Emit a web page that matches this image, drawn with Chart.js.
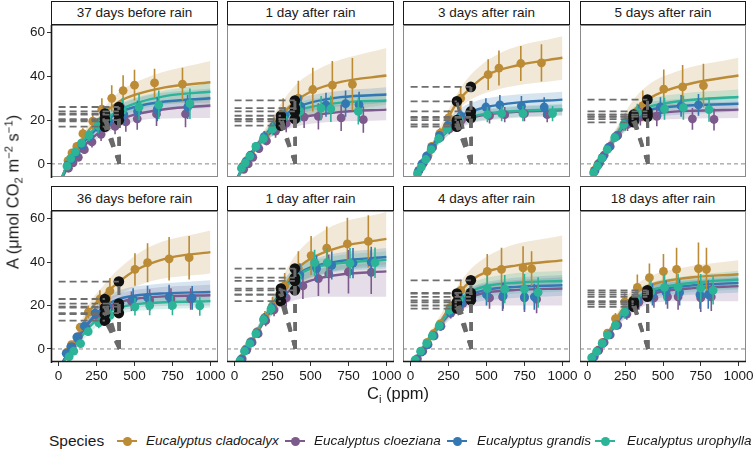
<!DOCTYPE html>
<html>
<head>
<meta charset="utf-8">
<script src="https://cdn.jsdelivr.net/npm/chart.js@4.4.0/dist/chart.umd.min.js"></script>
<style>
  body { margin: 0; background: #fff; }
  #page { position: relative; width: 755px; height: 451px; overflow: hidden; font-family: "Liberation Sans", Arial, sans-serif; color: #1a1a1a; }
  #page canvas { position: absolute; }
  .strip { position: absolute; box-sizing: border-box; border: 1.4px solid #1a1a1a; background: #fff; font-size: 13.5px; text-align: center; }
  .title { position: absolute; white-space: nowrap; font-size: 16.5px; transform: translate(-50%, -50%); }
  .title sub, .title sup { font-size: 0.68em; line-height: 0; }
  .ytitle { transform: translate(-50%, -50%) rotate(-90deg); }
  .leg { position: absolute; white-space: nowrap; font-size: 13.5px; font-style: italic; top: 432px; line-height: 18px; }
  .key { position: absolute; top: 432px; width: 20px; height: 18px; }
  .key .ln { position: absolute; left: 0; right: 0; top: 8px; height: 2px; }
  .key .dot { position: absolute; left: 5.5px; top: 4.5px; width: 9px; height: 9px; border-radius: 50%; }
</style>
</head>
<body>
<div id="page"></div>
<script>
// panels and axes
const panelTitles = ['37 days before rain', '1 day after rain', '3 days after rain', '5 days after rain',
                     '36 days before rain', '1 day after rain', '4 days after rain', '18 days after rain'];
const speciesNames = ['Eucalyptus cladocalyx', 'Eucalyptus cloeziana', 'Eucalyptus grandis', 'Eucalyptus urophylla'];
const xTicks = [0, 250, 500, 750, 1000];
const yTicks = [0, 20, 40, 60];
const fitCi = [20, 60, 100, 150, 200, 300, 400, 500, 700, 1000];
const bandCi = [20, 100, 200, 300, 400, 600, 1000];
const opCi = [305, 397];
const caRef = 400;

// fitted curves (one row per panel)
const cladFit = [
  [-6.5, 0, 5, 10.5, 15.5, 23, 28.5, 31.5, 35, 37.3],
  [-6.5, -1, 3.5, 8.5, 13, 21.5, 28.5, 33, 37.5, 40.4],
  [-7.5, -2, 3, 8.5, 14.5, 27.5, 35, 40.5, 45, 48.5],
  [-7, -1.5, 3.5, 9, 14.5, 24, 29.5, 33, 37, 40.4],
  [-7, -2, 3, 9.5, 17, 25, 31, 36, 41.5, 44.6],
  [-8, -3, 2.5, 8, 14.5, 26, 36, 41.5, 47, 50.7],
  [-7.5, -2, 3, 8, 13, 24, 31.5, 35.5, 38.5, 40.8],
  [-7.5, -2, 3, 9, 15, 24.5, 29, 31, 33, 34.4]
];
const cloezFit = [
  [-7, -1.5, 2.5, 6.5, 10.5, 16, 20, 22.5, 25, 26.7],
  [-6.5, -1, 3.5, 8, 12, 17.5, 20.5, 22, 23.8, 24.8],
  [-7, -2, 2.5, 7.5, 12, 18, 21, 22.5, 23.8, 24.5],
  [-7, -1.5, 3.5, 8.5, 13.5, 20.5, 22.5, 23.5, 24.3, 24.8],
  [-7, -2, 2.5, 7.5, 12, 18.5, 21.5, 23, 24.2, 24.7],
  [-8, -3, 2, 7.5, 13.5, 23, 28.5, 31.5, 34.3, 35.7],
  [-7.5, -2.5, 2.5, 7, 11.5, 19.5, 24, 26, 27.2, 27.8],
  [-7.5, -2, 2.5, 7.5, 12.5, 20.5, 24.5, 26.5, 28, 28.9]
];
const grandFit = [
  [-6.5, -0.5, 4, 8.5, 12.5, 19, 23.5, 26, 28.5, 30],
  [-6, -0.5, 4, 9, 13, 20.5, 25.5, 28, 30.5, 31.7],
  [-7, -1.5, 3.5, 9, 14, 21, 24, 26, 28, 29.4],
  [-7, -1.5, 3.5, 9, 14, 22, 24.5, 25.8, 26.8, 27.5],
  [-7, -2, 2.5, 7.5, 12.5, 19.5, 23, 24.5, 25.6, 26.2],
  [-8, -3, 2.5, 8, 14.5, 25.5, 33.5, 37.5, 40.5, 42.3],
  [-7.5, -2.5, 2.5, 7, 12, 20.5, 25, 27.3, 28.6, 29.3],
  [-7.5, -2, 2.5, 8, 13, 21.5, 25.5, 27.5, 29.3, 30.4]
];
const uroFit = [
  [-6.5, 0, 4.5, 9.5, 13.5, 20, 24.5, 27.5, 31, 33],
  [-6.5, -1, 3.5, 8.5, 12.5, 19.5, 24, 26, 28, 29],
  [-7, -2, 2.5, 7.5, 12, 18.5, 21.5, 23, 24.2, 25],
  [-7, -1.5, 3.5, 9, 14, 22.5, 26, 27.5, 29.3, 30.6],
  [-7.5, -3, 1, 5.5, 10, 16, 19, 20.5, 21.5, 22],
  [-8, -3, 2.5, 8, 14.5, 25, 33, 37, 39.5, 41],
  [-7.5, -2.5, 2.5, 7, 12, 21, 26.5, 29, 30.5, 31.3],
  [-7.5, -2, 2.5, 8, 13.5, 22, 26.5, 28.5, 30.5, 32]
];

// confidence bands
const cladLo = [
  [-7.5, 3.5, 13, 20, 24, 27, 28], [-7.5, 2, 10, 16, 20, 23, 27], [-8.5, 1.5, 11.5, 23.5, 29.5, 34.5, 38.5],
  [-8, 1.5, 11.5, 19, 23, 27, 30], [-8, 1, 13.5, 20.5, 25, 31, 34.7], [-9, 1, 12, 21, 28, 35, 39],
  [-8.5, 2, 10, 19.5, 25, 28, 30], [-8.5, 2, 13, 21, 24.5, 27, 28]
];
const cladHi = [
  [-5.5, 6.5, 18, 26, 33, 40, 47], [-5.5, 5, 16, 27, 36, 45, 53], [-6.5, 4.5, 17.5, 31.5, 41, 51, 58.4],
  [-6, 5.5, 17.5, 29, 36, 42.5, 48.5], [-6, 5, 20.5, 29.5, 37, 47, 54.5], [-7, 4, 17, 31, 43, 55, 63],
  [-6.5, 4, 16, 28, 37, 46, 52.2], [-6.5, 4, 17, 28, 33, 37, 40.8]
];
const cloezLo = [
  [-8, 1.5, 8.5, 13.5, 17, 20.5, 21], [-7.5, 2.5, 10, 14.5, 17, 19, 20], [-8, 1, 10, 15.5, 18.5, 20.5, 22],
  [-8, 2, 11, 17.5, 19.5, 20.5, 21], [-8, 1, 9, 15, 17.5, 19.5, 20], [-9, 1, 11.5, 19, 22.5, 24, 24],
  [-8.5, 1.5, 9.5, 16, 19.5, 20, 20], [-8.5, 1.5, 10.5, 16.5, 20.5, 22, 22]
];
const cloezHi = [
  [-6, 4, 12.5, 18.5, 23, 27, 31], [-5.5, 4.5, 14, 20.5, 24, 26.5, 28.5], [-6, 4, 14, 20.5, 23.5, 25.5, 27],
  [-6, 5, 16, 23.5, 26, 27.5, 28.5], [-6, 4, 15, 22, 25.5, 28, 29.5], [-7, 3, 15.5, 27, 33, 37.5, 40],
  [-6.5, 3.5, 13.5, 23, 28, 31, 33], [-6.5, 3.5, 14.5, 24.5, 28.5, 31, 33]
];
const grandLo = [
  [-7.5, 2.5, 10.5, 16, 20, 24, 25.5], [-7, 3, 11, 17.5, 22, 25.5, 28], [-8, 2, 12, 18, 20.5, 23.5, 25.5],
  [-8, 2, 11.5, 19, 21, 22.5, 24], [-8, 1, 9.5, 16, 19, 21, 21.5], [-9, 1.5, 12.5, 21.5, 29.5, 35, 38],
  [-8.5, 1.5, 10, 17.5, 21, 23, 24.5], [-8.5, 1.5, 11, 18, 22, 24.5, 26]
];
const grandHi = [
  [-5.5, 5.5, 14.5, 22, 27, 31.5, 34.5], [-5, 5, 15, 23.5, 29, 32.5, 35], [-6, 5, 16, 24, 28, 31, 33],
  [-6, 5, 16.5, 25, 28, 29.5, 31], [-6, 4, 15.5, 23, 27, 29.5, 31.6], [-7, 3.5, 16.5, 29.5, 37.5, 43, 46.5],
  [-6.5, 3.5, 14, 23.5, 28.5, 32, 34], [-6.5, 3.5, 15, 25, 29, 31.5, 34]
];
const uroLo = [
  [-7.5, 3, 11.5, 17.5, 21.5, 26, 29], [-7.5, 2.5, 10.5, 16.5, 20.5, 23.5, 25.5], [-8, 1, 10, 16, 19, 21, 22.5],
  [-8, 2, 11.5, 19.5, 22.5, 25, 27], [-8.5, -1, 7, 13, 16, 18, 19], [-9, 1.5, 12.5, 21, 29, 34.5, 37],
  [-8.5, 1.5, 10, 18, 22.5, 25, 26.5], [-8.5, 1.5, 11.5, 18.5, 23, 25.5, 27.5]
];
const uroHi = [
  [-5.5, 6, 15.5, 22.5, 27.5, 32, 37], [-5.5, 4.5, 14.5, 22.5, 27.5, 30.5, 32.5], [-6, 4, 14, 21, 24, 26, 27.5],
  [-6, 5, 16.5, 25.5, 29.5, 32, 34], [-6.5, 3, 13, 19, 22, 24, 25], [-7, 3.5, 16.5, 29, 37, 42, 45],
  [-6.5, 3.5, 14, 24, 30, 34, 36], [-6.5, 3.5, 15.5, 25.5, 30, 33, 36]
];

// measured points: Ci, A and error
const cladCi = [
  [62, 88, 120, 160, 225, 285, 350, 425, 500, 632, 816], [55, 80, 110, 150, 200, 260, 320, 420, 515, 644, 776],
  [55, 85, 115, 139, 193, 250, 330, 511, 582, 726, 862], [45, 70, 100, 135, 185, 250, 366, 505, 630, 768],
  [55, 85, 142, 196, 272, 338, 503, 586, 728, 860], [45, 75, 110, 150, 200, 250, 330, 420, 504, 607, 743, 881],
  [40, 75, 110, 150, 195, 260, 330, 505, 599, 741, 797], [40, 70, 100, 132, 185, 246, 330, 410, 503, 590, 735, 788]
];
const cladA = [
  [1.5, 5, 8, 13.8, 19.5, 25, 30, 33.5, 36, 37, 36.5], [-1, 1.5, 4, 8, 12.5, 17.5, 24, 30, 34, 36, 36.4],
  [-3, 0.5, 4, 8, 14, 21, 30, 40.8, 43.8, 45.9, 46.2], [-3, 0, 3, 7, 12.5, 19, 26.6, 34.2, 35.2, 35.8],
  [-1.5, 2, 10, 17, 23, 26.7, 36.6, 39.7, 41.5, 42], [-4.5, 0, 3.5, 8, 14.5, 20, 29, 37, 43, 46.4, 48.4, 49.5],
  [-5, -1, 3, 7, 11.5, 19, 27, 35.7, 36.6, 37.3, 37], [-3.5, -0.5, 3, 7.3, 14, 21.7, 28.3, 32.8, 35.7, 36.6, 37, 36.6]
];
const cladErr = [
  [1, 1.5, 2, 2.5, 3.5, 5, 6, 7, 7, 6.5, 7.5], [1, 1.5, 1.5, 2, 2.5, 4, 6, 8, 10, 11, 12],
  [1, 1, 1.5, 2, 2.5, 3.5, 5, 7, 8, 8, 8.5], [1, 1, 1.5, 2, 2.5, 4, 7, 9, 10, 10],
  [1, 1.5, 2, 3, 4, 6, 7.5, 9, 10, 10], [1, 1, 1.5, 2, 3, 4, 6, 8, 9, 10, 12, 12],
  [1, 1, 1, 1.5, 2, 3, 5, 8, 10, 10, 8], [1, 1, 1, 1.5, 2.5, 4, 6, 6.5, 8, 10, 12, 10]
];
const cloezCi = [
  [65, 95, 130, 170, 220, 280, 372, 443, 518, 645, 836], [60, 90, 120, 160, 210, 270, 340, 458, 552, 702, 848],
  [55, 80, 110, 145, 195, 255, 335, 520, 620, 750, 900], [50, 80, 110, 150, 200, 265, 350, 459, 695, 838],
  [60, 90, 130, 180, 250, 330, 480, 600, 740, 870], [50, 80, 115, 155, 205, 260, 340, 450, 552, 620, 750, 900],
  [45, 80, 115, 155, 200, 265, 345, 520, 606, 750, 830], [45, 75, 110, 150, 200, 260, 340, 440, 530, 600, 750, 820]
];
const cloezA = [
  [-2, 0.5, 3, 6.5, 10, 13.5, 17.1, 19.2, 20.6, 22.8, 22.8], [-2.5, 0, 3, 7, 10.5, 15, 18.5, 21.4, 21.7, 21, 20.2],
  [-3, 0, 3, 7.5, 12, 16, 20, 22, 22.5, 23, 22.5], [-3, 0.5, 4, 8, 13, 18, 21.5, 21.7, 20.6, 20.3],
  [-2, 1, 5.5, 10, 15.5, 19, 22, 22.5, 23, 23], [-4.5, -0.5, 3, 7, 13, 18, 23.5, 29, 32.4, 34.5, 35.5, 35.3],
  [-4.5, -1, 2, 6, 10.5, 16.5, 21, 23.5, 24, 23.5, 22.9], [-3.5, -0.5, 3, 6.5, 11, 16, 21.5, 23.5, 24, 24, 23.5, 24]
];
const cloezErr = [
  [1, 1, 1.5, 2, 2.5, 3, 3.5, 4.5, 5, 5.5, 6], [1, 1, 1.5, 2, 2, 3, 4, 5, 6, 6, 6],
  [1, 1, 1, 1.5, 2, 2.5, 3, 3.5, 3.5, 3.5, 3.5], [1, 1, 1, 1.5, 2, 3, 4, 4.5, 5, 5],
  [1, 1, 1.5, 2, 2.5, 3.5, 4.5, 5, 5, 5], [1, 1, 1, 1.5, 2.5, 3, 4, 6, 8, 9, 10, 10],
  [1, 1, 1, 1.5, 2, 2.5, 3.5, 5, 6.5, 6.5, 6.5], [1, 1, 1, 1.5, 2, 2.5, 3.5, 4.5, 5.5, 6, 6.5, 6.5]
];
const grandCi = [
  [60, 85, 115, 155, 205, 265, 330, 430, 520, 650, 850], [50, 75, 105, 145, 195, 255, 330, 436, 602, 731, 820],
  [50, 75, 105, 140, 190, 245, 330, 496, 588, 730, 880], [45, 70, 100, 140, 190, 250, 340, 483, 620, 735],
  [50, 80, 120, 170, 240, 320, 491, 586, 728, 880], [40, 70, 105, 145, 195, 245, 320, 430, 540, 640, 780, 900],
  [35, 70, 110, 150, 195, 260, 340, 500, 610, 750, 815], [35, 65, 100, 140, 190, 250, 330, 430, 520, 610, 745, 800]
];
const grandA = [
  [-0.5, 2, 5, 8.5, 12.5, 16.5, 19.5, 22.5, 24, 25, 26], [-1.5, 1, 4, 8, 12.5, 17, 22, 26.3, 27, 27.5, 27],
  [-3.5, 0, 3.5, 7.5, 13, 17.5, 22, 26, 27, 26.5, 26], [-3.5, -0.5, 3, 7.5, 12.5, 18.5, 23, 26, 26.5, 27],
  [-2, 1, 5.5, 10.5, 16.5, 20, 22.9, 23.6, 24, 23.5], [-5, -0.5, 3, 7.5, 14, 19, 25.5, 34, 37, 38.5, 39.5, 40],
  [-5, -1.5, 2, 6, 10.5, 17, 22, 25, 24.5, 24, 24], [-4, -1, 2.5, 6.5, 11, 16.5, 22, 25, 26, 26, 25, 25]
];
const grandErr = [
  [1, 1, 1.5, 2, 2.5, 3, 4, 4.5, 5, 5.5, 5.5], [1, 1, 1.5, 2, 2.5, 3, 4, 5, 5.5, 6, 6],
  [1, 1, 1, 1.5, 2, 2.5, 3, 4, 4.5, 4.5, 4.5], [1, 1, 1, 1.5, 2, 3, 4, 4.5, 5, 5],
  [1, 1, 1.5, 2, 2.5, 3.5, 5, 5.5, 5.5, 5.5], [1, 1, 1, 1.5, 2.5, 3, 4, 5.5, 6, 6.5, 7, 7],
  [1, 1, 1, 1.5, 2, 2.5, 3.5, 5, 6, 6, 6], [1, 1, 1, 1.5, 2, 2.5, 3.5, 5, 5.5, 6, 6.5, 6.5]
];
const uroCi = [
  [55, 80, 110, 150, 200, 260, 320, 420, 530, 660, 865], [45, 70, 100, 140, 190, 250, 320, 430, 570, 634, 815],
  [45, 70, 100, 135, 185, 240, 320, 506, 600, 740, 935], [40, 65, 95, 130, 180, 240, 330, 510, 635, 805],
  [70, 100, 145, 195, 265, 340, 503, 600, 750, 930], [35, 65, 100, 140, 190, 240, 310, 415, 527, 610, 760, 925],
  [30, 66, 106, 143, 189, 255, 320, 505, 620, 750, 840], [27, 60, 97, 132, 185, 246, 320, 420, 510, 600, 750, 832]
];
const uroA = [
  [-1, 2.5, 5.5, 9.5, 13, 17.5, 21, 24.5, 26, 27, 27.5], [-2, 0.5, 3.5, 8, 11.5, 16, 21, 24, 25.5, 25.2, 24],
  [-4.5, -1.5, 2, 6.5, 11.5, 16, 20, 22.5, 23, 23, 23], [-4, -1, 2.5, 6.5, 12, 18, 23.5, 25.2, 25.7, 24.8],
  [-3.5, -1, 2.5, 8, 12, 15.5, 19.4, 20, 20, 19.8], [-5.5, -1, 2.5, 7, 13.5, 18.5, 25, 33, 39.7, 39.7, 39.5, 39.7],
  [-5, -1, 2.6, 6, 10.7, 17.9, 23, 27.8, 27.5, 27.5, 26], [-4, -1.2, 2.6, 6.4, 11, 17, 23, 26.5, 28.3, 28.5, 28, 27]
];
const uroErr = [
  [1, 1.5, 1.5, 2, 2.5, 3.5, 4.5, 5.5, 6, 6.5, 7], [1, 1, 1.5, 2, 2.5, 3, 4, 5, 5.5, 6, 6],
  [1, 1, 1, 1.5, 2, 2, 3, 3.5, 3.5, 3.5, 3.5], [1, 1, 1, 1.5, 2, 3, 4, 5, 5.5, 5.5],
  [1, 1, 1.5, 2, 2.5, 3, 4, 4.5, 4.5, 4.5], [1, 1, 1, 1.5, 2.5, 3, 4, 5.5, 6, 6.5, 7, 7],
  [1, 1, 1, 1.5, 2, 2.5, 4, 6, 6.5, 7, 7], [1, 1, 1, 1.5, 2, 3, 4, 5, 6, 6, 6.5, 6.5]
];

// operating points: A at opCi[0] and opCi[1]
const cladOp = [[23, 26], [22, 29], [28.6, 35.2], [22.5, 29.4], [23, 31], [27.8, 37], [25.5, 31.6], [22, 27]];
const cloezOp = [[17, 20], [17.5, 20.5], [18, 21], [19, 21.6], [16, 19.5], [22, 27], [18.6, 22.4], [19.4, 24]];
const grandOp = [[19.5, 22.5], [20.5, 25.5], [20, 24], [20.5, 22.5], [19, 20.9], [25, 32.8], [20, 24], [20.5, 25]];
const uroOp = [[20.5, 24], [19.5, 24], [17, 21.5], [21.5, 24], [13, 16.5], [25, 31.3], [21.5, 25.8], [21.5, 26]];

const species = [
  { color: '#bb8b35', band: 'rgba(187,139,53,0.2)', fit: cladFit, lo: cladLo, hi: cladHi, ci: cladCi, a: cladA, err: cladErr, op: cladOp },
  { color: '#7d5a8c', band: 'rgba(125,90,140,0.2)', fit: cloezFit, lo: cloezLo, hi: cloezHi, ci: cloezCi, a: cloezA, err: cloezErr, op: cloezOp },
  { color: '#3377b3', band: 'rgba(51,119,179,0.2)', fit: grandFit, lo: grandLo, hi: grandHi, ci: grandCi, a: grandA, err: grandErr, op: grandOp },
  { color: '#2bb497', band: 'rgba(43,180,151,0.2)', fit: uroFit, lo: uroLo, hi: uroHi, ci: uroCi, a: uroA, err: uroErr, op: uroOp }
];

// layout
const plotLeft = [51, 227, 403, 580];
const plotWidth = [167, 167, 167, 166];
const plotTop = [25, 211];
const plotHeight = [152, 151];
const stripTop = [1, 186];
const ML = 45, MR = 22, MT = 6, MB = 32;

Chart.defaults.font.family = '"Liberation Sans", Arial, sans-serif';
Chart.defaults.font.size = 13.5;
Chart.defaults.color = '#1a1a1a';

const page = document.getElementById('page');

// error bars are drawn just before their points
const errorBars = {
  id: 'errorBars',
  beforeDatasetDraw(chart, args) {
    const ds = chart.data.datasets[args.index];
    if (!ds.err) return;
    const { ctx, chartArea: a, scales: { x, y } } = chart;
    ctx.save();
    ctx.beginPath();
    ctx.rect(a.left, a.top, a.width, a.height);
    ctx.clip();
    ctx.strokeStyle = ds.backgroundColor;
    ctx.lineWidth = 1.6;
    ctx.beginPath();
    ds.data.forEach((p, i) => {
      const px = x.getPixelForValue(p.x);
      ctx.moveTo(px, y.getPixelForValue(p.y - ds.err[i]));
      ctx.lineTo(px, y.getPixelForValue(p.y + ds.err[i]));
    });
    ctx.stroke();
    ctx.restore();
  }
};

function panelFrame(axisLeft, axisBottom) {
  return {
    id: 'panelFrame',
    afterDraw(chart) {
      const { ctx, chartArea: a } = chart;
      ctx.save();
      ctx.strokeStyle = '#8a8a8a';
      ctx.lineWidth = 1;
      ctx.strokeRect(a.left + 0.5, a.top + 0.5, a.width - 1, a.height - 1);
      ctx.strokeStyle = '#1a1a1a';
      ctx.lineWidth = 1.6;
      ctx.beginPath();
      if (axisLeft) { ctx.moveTo(a.left + 0.5, a.top); ctx.lineTo(a.left + 0.5, a.bottom + 1); }
      if (axisBottom) { ctx.moveTo(a.left, a.bottom - 0.5); ctx.lineTo(a.right, a.bottom - 0.5); }
      ctx.stroke();
      ctx.restore();
    }
  };
}

function segment(points, color, width, dash) {
  return { data: points, borderColor: color, borderWidth: width, borderDash: dash, pointRadius: 0, fill: false };
}

function buildDatasets(p) {
  const list = [];
  list.push(segment([{ x: -50, y: 0 }, { x: 1050, y: 0 }], '#7a7a7a', 0.9, [4, 3]));
  species.forEach(s => {
    const loIndex = list.length;
    list.push({ data: bandCi.map((c, i) => ({ x: c, y: s.lo[p][i] })), borderWidth: 0, pointRadius: 0, fill: false, cubicInterpolationMode: 'monotone' });
    list.push({ data: bandCi.map((c, i) => ({ x: c, y: s.hi[p][i] })), borderWidth: 0, pointRadius: 0, fill: loIndex, backgroundColor: s.band, cubicInterpolationMode: 'monotone' });
  });
  species.forEach(s => {
    list.push({ data: fitCi.map((c, i) => ({ x: c, y: s.fit[p][i] })), borderColor: s.color, borderWidth: 2.4, pointRadius: 0, fill: false, cubicInterpolationMode: 'monotone' });
  });
  species.forEach(s => {
    list.push({ data: s.ci[p].map((c, i) => ({ x: c, y: s.a[p][i] })), err: s.err[p], showLine: false, pointRadius: 4.4, backgroundColor: s.color, borderWidth: 0 });
  });
  const ops = [];
  species.forEach(s => opCi.forEach((c, k) => ops.push({ x: c, y: s.op[p][k] })));
  list.push({ data: ops, showLine: false, pointRadius: 5.3, backgroundColor: '#111', borderWidth: 0 });
  species.forEach(s => opCi.forEach((c, k) => {
    list.push(segment([{ x: 0, y: s.op[p][k] }, { x: c, y: s.op[p][k] }], '#6e6e6e', 1.8, [7, 4]));
  }));
  species.forEach(s => opCi.forEach((c, k) => {
    list.push(segment([{ x: caRef, y: 0 }, { x: c, y: s.op[p][k] }], '#6a6a6a', 3, [9, 9]));
  }));
  // first dataset at the bottom
  list.forEach((d, i) => { d.order = list.length - i; });
  return list;
}

panelTitles.forEach((title, p) => {
  const row = p < 4 ? 0 : 1;
  const col = p % 4;
  const showY = col === 0;
  const showX = row === 1;

  const strip = document.createElement('div');
  strip.className = 'strip';
  strip.textContent = title;
  strip.style.left = plotLeft[col] + 'px';
  strip.style.top = stripTop[row] + 'px';
  strip.style.width = plotWidth[col] + 'px';
  strip.style.height = (plotTop[row] - stripTop[row]) + 'px';
  strip.style.lineHeight = (plotTop[row] - stripTop[row] - 2) + 'px';
  page.appendChild(strip);

  const canvas = document.createElement('canvas');
  canvas.width = plotWidth[col] + ML + MR;
  canvas.height = plotHeight[row] + MT + MB;
  canvas.style.left = (plotLeft[col] - ML) + 'px';
  canvas.style.top = (plotTop[row] - MT) + 'px';
  page.appendChild(canvas);

  new Chart(canvas, {
    type: 'line',
    data: { datasets: buildDatasets(p) },
    options: {
      responsive: false,
      animation: false,
      events: [],
      layout: { padding: { left: 0, right: MR, top: MT, bottom: 0 } },
      plugins: { legend: { display: false }, tooltip: { enabled: false } },
      scales: {
        x: {
          type: 'linear', min: -50, max: 1050,
          afterBuildTicks: s => { s.ticks = xTicks.map(v => ({ value: v })); },
          afterFit: s => { s.height = MB; s.paddingLeft = 0; s.paddingRight = 0; },
          ticks: { display: showX, padding: 2, maxRotation: 0, autoSkip: false, color: '#1a1a1a', callback: v => String(v) },
          grid: { display: showX, drawOnChartArea: false, tickLength: 4, color: '#333' },
          border: { display: false }
        },
        y: {
          type: 'linear', min: -6, max: 63.5,
          afterBuildTicks: s => { s.ticks = yTicks.map(v => ({ value: v })); },
          afterFit: s => { s.width = ML; s.paddingTop = 0; s.paddingBottom = 0; },
          ticks: { display: showY, padding: 2, autoSkip: false, color: '#1a1a1a', callback: v => String(v) },
          grid: { display: showY, drawOnChartArea: false, tickLength: 4, color: '#333' },
          border: { display: false }
        }
      }
    },
    plugins: [errorBars, panelFrame(showY, showX)]
  });
});

// axis titles
const yTitle = document.createElement('div');
yTitle.className = 'title ytitle';
yTitle.style.left = '13px';
yTitle.style.top = '192px';
yTitle.innerHTML = 'A (&mu;mol CO<sub>2</sub> m<sup>&minus;2</sup> s<sup>&minus;1</sup>)';
page.appendChild(yTitle);

const xTitle = document.createElement('div');
xTitle.className = 'title';
xTitle.style.left = '398px';
xTitle.style.top = '393px';
xTitle.innerHTML = 'C<sub>i</sub> (ppm)';
page.appendChild(xTitle);

// legend
const legTitle = document.createElement('div');
legTitle.className = 'leg';
legTitle.style.left = '49px';
legTitle.style.fontStyle = 'normal';
legTitle.style.fontSize = '15.5px';
legTitle.textContent = 'Species';
page.appendChild(legTitle);

const keyLeft = [117, 285, 447, 595];
const textLeft = [146, 314, 477, 627];
speciesNames.forEach((name, i) => {
  const key = document.createElement('div');
  key.className = 'key';
  key.style.left = keyLeft[i] + 'px';
  key.innerHTML = '<div class="ln" style="background:' + species[i].color + '"></div><div class="dot" style="background:' + species[i].color + '"></div>';
  page.appendChild(key);
  const label = document.createElement('div');
  label.className = 'leg';
  label.style.left = textLeft[i] + 'px';
  label.textContent = name;
  page.appendChild(label);
});
</script>
</body>
</html>
